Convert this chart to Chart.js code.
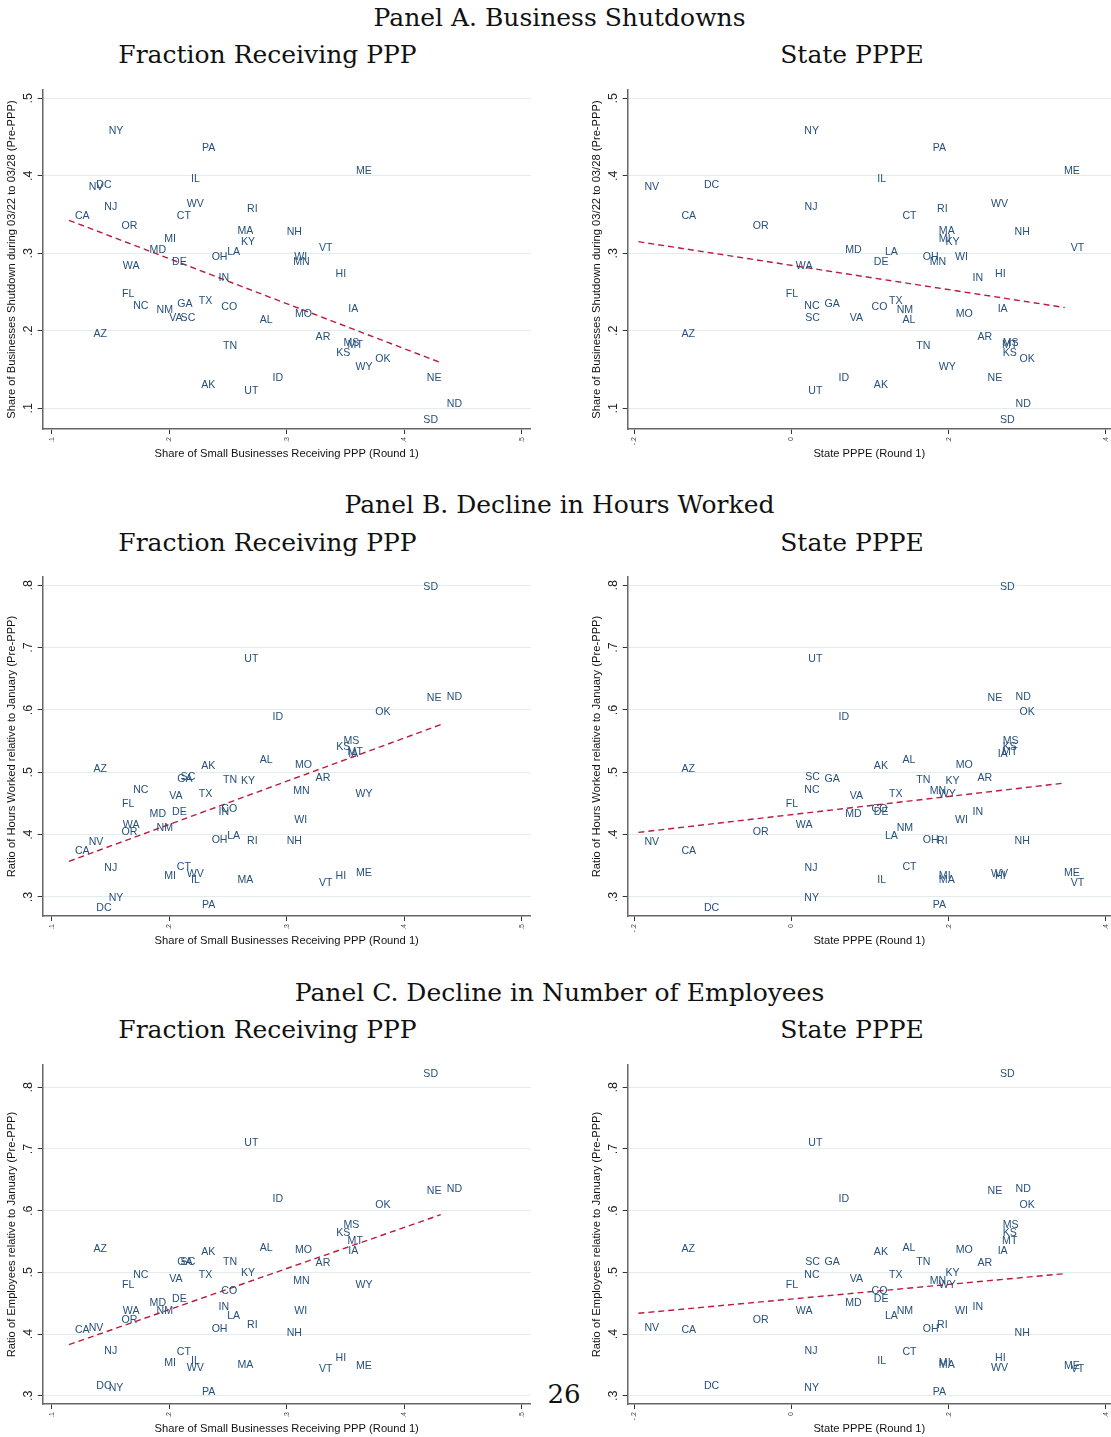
<!DOCTYPE html>
<html><head><meta charset="utf-8">
<script src="https://cdn.jsdelivr.net/npm/chart.js@4.4.1/dist/chart.umd.min.js"></script>
<style>
html,body{margin:0;padding:0;background:#fff;}
body{width:1111px;height:1437px;position:relative;overflow:hidden;}
.ttl{position:absolute;font-family:"DejaVu Serif",serif;font-size:25px;line-height:25px;color:#111;white-space:nowrap;transform:translateX(-50%);}
.cv{position:absolute;}
</style></head><body>
<div class="ttl" style="left:559.5px;top:4.5px">Panel A. Business Shutdowns</div>
<div class="ttl" style="left:267.5px;top:42px">Fraction Receiving PPP</div>
<div class="ttl" style="left:852px;top:42px">State PPPE</div>
<div class="ttl" style="left:559.5px;top:492px">Panel B. Decline in Hours Worked</div>
<div class="ttl" style="left:267.5px;top:529.5px">Fraction Receiving PPP</div>
<div class="ttl" style="left:852px;top:529.5px">State PPPE</div>
<div class="ttl" style="left:559.5px;top:979.5px">Panel C. Decline in Number of Employees</div>
<div class="ttl" style="left:267.5px;top:1017px">Fraction Receiving PPP</div>
<div class="ttl" style="left:852px;top:1017px">State PPPE</div>
<div class="ttl" style="left:564px;top:1381px;font-size:26px;line-height:26px">26</div>

<canvas id="aL" class="cv" width="540" height="390" style="left:0;top:80px"></canvas>
<canvas id="aR" class="cv" width="526" height="390" style="left:585px;top:80px"></canvas>
<canvas id="bL" class="cv" width="540" height="390" style="left:0;top:567px"></canvas>
<canvas id="bR" class="cv" width="526" height="390" style="left:585px;top:567px"></canvas>
<canvas id="cL" class="cv" width="540" height="390" style="left:0;top:1055px"></canvas>
<canvas id="cR" class="cv" width="526" height="390" style="left:585px;top:1055px"></canvas>

<script>
// ---------------- DATA ----------------
const states = ['AK','AL','AR','AZ','CA','CO','CT','DC','DE','FL','GA','HI','IA','ID','IL','IN','KS','KY','LA','MA','MD','ME','MI','MN','MO','MS','MT','NC','ND','NE','NH','NJ','NM','NV','NY','OH','OK','OR','PA','RI','SC','SD','TN','TX','UT','VA','VT','WA','WI','WV','WY'];

// Share of small businesses receiving PPP (Round 1)
const pppShare = [0.2222,0.2720,0.3195,0.1305,0.1147,0.2392,0.2014,0.1328,0.1973,0.1548,
                  0.2017,0.3365,0.3473,0.2829,0.2134,0.2368,0.3371,0.2559,0.2442,0.2530,
                  0.1782,0.3538,0.1906,0.3004,0.3019,0.3432,0.3467,0.1642,0.4311,0.4141,
                  0.2949,0.1396,0.1841,0.1264,0.1434,0.2310,0.3702,0.1542,0.2228,0.2612,
                  0.2046,0.4112,0.2407,0.2201,0.2588,0.1949,0.3224,0.1554,0.3013,0.2099,0.3535];

// State PPPE (Round 1)
const statePPPE = [0.0972,0.1336,0.2291,-0.1478,-0.1478,0.0942,0.1336,-0.1191,0.0972,-0.0150,
                   0.0343,0.2514,0.2548,0.0522,0.1015,0.2227,0.2612,0.1884,0.1113,0.1799,
                   0.0608,0.3392,0.1799,0.1683,0.2013,0.2612,0.2604,0.0086,0.2775,0.2420,
                   0.2762,0.0090,0.1263,-0.1949,0.0086,0.1593,0.2827,-0.0570,0.1722,0.1777,
                   0.0099,0.2578,0.1512,0.1165,0.0137,0.0664,0.3478,-0.0021,0.2004,0.2463,0.1799];

// Share of businesses shutdown 03/22-03/28
const shutdown = [0.1302,0.2136,0.1922,0.1958,0.3483,0.2300,0.3483,0.3878,0.2889,0.2479,
                  0.2343,0.2732,0.2285,0.1393,0.3964,0.2682,0.1717,0.3140,0.3019,0.3286,
                  0.3045,0.4063,0.3183,0.2889,0.2220,0.1838,0.1810,0.2324,0.1050,0.1391,
                  0.3278,0.3591,0.2266,0.3854,0.4583,0.2952,0.1638,0.3354,0.4355,0.3574,
                  0.2158,0.0843,0.1806,0.2382,0.1223,0.2158,0.3066,0.2829,0.2956,0.3638,0.1534];

// Ratio of hours worked relative to January
const hoursRatio = [0.5105,0.5190,0.4906,0.5056,0.3735,0.4418,0.3478,0.2818,0.4359,0.4493,
                    0.4898,0.3336,0.5285,0.5887,0.3274,0.4359,0.5412,0.4855,0.3978,0.3272,
                    0.4327,0.3381,0.3336,0.4702,0.5116,0.5498,0.5323,0.4719,0.6206,0.6193,
                    0.3899,0.3470,0.4099,0.3880,0.2979,0.3916,0.5967,0.4047,0.2877,0.3899,
                    0.4922,0.7972,0.4871,0.4654,0.6819,0.4614,0.3223,0.4155,0.4227,0.3368,0.4651];

// Ratio of employees relative to January
const empRatio = [0.5330,0.5388,0.5155,0.5383,0.4064,0.4697,0.3714,0.3160,0.4561,0.4789,
                  0.5163,0.3611,0.5348,0.6189,0.3567,0.4439,0.5638,0.4992,0.4292,0.3497,
                  0.4504,0.3472,0.3524,0.4862,0.5367,0.5766,0.5508,0.4952,0.6350,0.6317,
                  0.4018,0.3722,0.4376,0.4097,0.3122,0.4081,0.6095,0.4227,0.3062,0.4146,
                  0.5163,0.8217,0.5163,0.4960,0.7088,0.4895,0.3429,0.4376,0.4376,0.3446,0.4789];

// Linear fit endpoints
const fitXppp  = [0.1147, 0.4311];
const fitXpppe = [-0.1949, 0.3478];
const fitShutPPP   = [0.3426, 0.1589];
const fitShutPPPE  = [0.3150, 0.2300];
const fitHoursPPP  = [0.3572, 0.5765];
const fitHoursPPPE = [0.4036, 0.4828];
const fitEmpPPP    = [0.3827, 0.5935];
const fitEmpPPPE   = [0.4336, 0.4979];

// Tick values
const xTicksPPP  = [0.1, 0.2, 0.3, 0.4, 0.5];
const xTicksPPPE = [-0.2, 0, 0.2, 0.4];
const yTicksShut = [0.1, 0.2, 0.3, 0.4, 0.5];
const yTicksRatio = [0.3, 0.4, 0.5, 0.6, 0.7, 0.8];

// Axis titles
const xTitlePPP  = 'Share of Small Businesses Receiving PPP (Round 1)';
const xTitlePPPE = 'State PPPE (Round 1)';
const yTitleShut  = 'Share of Businesses Shutdown during 03/22 to 03/28 (Pre-PPP)';
const yTitleHours = 'Ratio of Hours Worked relative to January (Pre-PPP)';
const yTitleEmp   = 'Ratio of Employees relative to January (Pre-PPP)';

// ---------------- STYLE ----------------
const SANS = '"Liberation Sans", Arial, Helvetica, sans-serif';
const LABEL_COLOR = '#26507b';
const FIT_COLOR = '#bb1c3e';
const GRID_COLOR = '#e3ecec';
const AXIS_COLOR = '#666666';

function fmt(v) {
  const n = Number(v.toFixed(3));
  if (n === 0) return '0';
  const s = String(Math.abs(n)).replace(/^0/, '');
  return (n < 0 ? '-' : '') + s;
}

const decoPlugin = {
  id: 'deco',
  afterDatasetsDraw(chart) {
    const ctx = chart.ctx;
    const meta = chart.getDatasetMeta(0);
    ctx.save();
    ctx.font = '10.6px ' + SANS;
    ctx.fillStyle = LABEL_COLOR;
    ctx.textAlign = 'left';
    ctx.textBaseline = 'middle';
    meta.data.forEach((el, i) => {
      ctx.fillText(states[i], el.x + 6, el.y);
    });
    ctx.restore();
  },
  afterDraw(chart) {
    const o = chart.options.plugins.deco;
    const ctx = chart.ctx, ca = chart.chartArea;
    const xs = chart.scales.x, ys = chart.scales.y;
    ctx.save();
    // y tick labels (rotated)
    ctx.fillStyle = '#222';
    ctx.font = '12.5px ' + SANS;
    ctx.textAlign = 'center';
    ctx.textBaseline = 'middle';
    ys.ticks.forEach(t => {
      const py = ys.getPixelForValue(t.value);
      ctx.save(); ctx.translate(ca.left - 14.2, py); ctx.rotate(-Math.PI / 2);
      ctx.fillText(fmt(t.value), 0, 0); ctx.restore();
    });
    // x tick labels (tiny, rotated)
    ctx.fillStyle = '#444';
    ctx.font = '7px ' + SANS;
    ctx.textAlign = 'right';
    xs.ticks.forEach(t => {
      const px = xs.getPixelForValue(t.value);
      ctx.save(); ctx.translate(px, ca.bottom + 8); ctx.rotate(-Math.PI / 2);
      ctx.fillText(fmt(t.value), 0, 0); ctx.restore();
    });
    // axis titles
    ctx.fillStyle = '#111';
    ctx.font = '11.2px ' + SANS;
    ctx.textAlign = 'center';
    ctx.fillText(o.xTitle, (ca.left + ca.right) / 2, ca.bottom + 25);
    ctx.save(); ctx.translate(12, (ca.top + ca.bottom) / 2); ctx.rotate(-Math.PI / 2);
    ctx.fillText(o.yTitle, 0, 0); ctx.restore();
    ctx.restore();
  }
};

function build(id, o) {
  return new Chart(document.getElementById(id), {
    type: 'scatter',
    data: {
      datasets: [
        { data: o.xs.map((x, i) => ({ x: x, y: o.ys[i] })), pointRadius: 0, pointHoverRadius: 0, showLine: false },
        { data: o.fx.map((x, i) => ({ x: x, y: o.fy[i] })), showLine: true, borderColor: FIT_COLOR,
          borderWidth: 1.4, borderDash: [6, 4], pointRadius: 0, pointHoverRadius: 0, fill: false }
      ]
    },
    options: {
      responsive: false, animation: false, devicePixelRatio: 1,
      layout: { padding: { top: 10, right: o.padR, bottom: 0, left: 0 } },
      plugins: { legend: { display: false }, tooltip: { enabled: false },
                 deco: { xTitle: o.xTitle, yTitle: o.yTitle } },
      scales: {
        x: { type: 'linear', min: o.xMin, max: o.xMax,
             afterBuildTicks: s => { s.ticks = o.xTicks.map(v => ({ value: v })); },
             afterFit: s => { s.height = 41; },
             ticks: { display: false },
             grid: { drawOnChartArea: false, drawTicks: true, tickLength: 5, tickColor: '#333', tickWidth: 1 },
             border: { display: true, color: AXIS_COLOR, width: 1.5 } },
        y: { type: 'linear', min: o.yMin, max: o.yMax,
             afterBuildTicks: s => { s.ticks = o.yTicks.map(v => ({ value: v })); },
             afterFit: s => { s.width = 42.7; },
             ticks: { display: false },
             grid: { color: GRID_COLOR, lineWidth: 1, drawTicks: true, tickLength: 5, tickColor: '#333', tickWidth: 1 },
             border: { display: true, color: AXIS_COLOR, width: 1.5 } }
      }
    },
    plugins: [decoPlugin]
  });
}

const L = { xMin: 0.09234, xMax: 0.50766, padR: 9.3, xTicks: xTicksPPP, xTitle: xTitlePPP, xs: pppShare, fx: fitXppp };
const R = { xMin: -0.2085, xMax: 0.4067, padR: 0, xTicks: xTicksPPPE, xTitle: xTitlePPPE, xs: statePPPE, fx: fitXpppe };
const A = { yMin: 0.0733, yMax: 0.5107, yTicks: yTicksShut, yTitle: yTitleShut, ys: shutdown };
const B = { yMin: 0.2695, yMax: 0.8133, yTicks: yTicksRatio, yTitle: yTitleHours, ys: hoursRatio };
const C = { yMin: 0.2865, yMax: 0.8362, yTicks: yTicksRatio, yTitle: yTitleEmp, ys: empRatio };

build('aL', Object.assign({}, L, A, { fy: fitShutPPP }));
build('aR', Object.assign({}, R, A, { fy: fitShutPPPE }));
build('bL', Object.assign({}, L, B, { fy: fitHoursPPP }));
build('bR', Object.assign({}, R, B, { fy: fitHoursPPPE }));
build('cL', Object.assign({}, L, C, { fy: fitEmpPPP }));
build('cR', Object.assign({}, R, C, { fy: fitEmpPPPE }));
</script>
</body></html>
